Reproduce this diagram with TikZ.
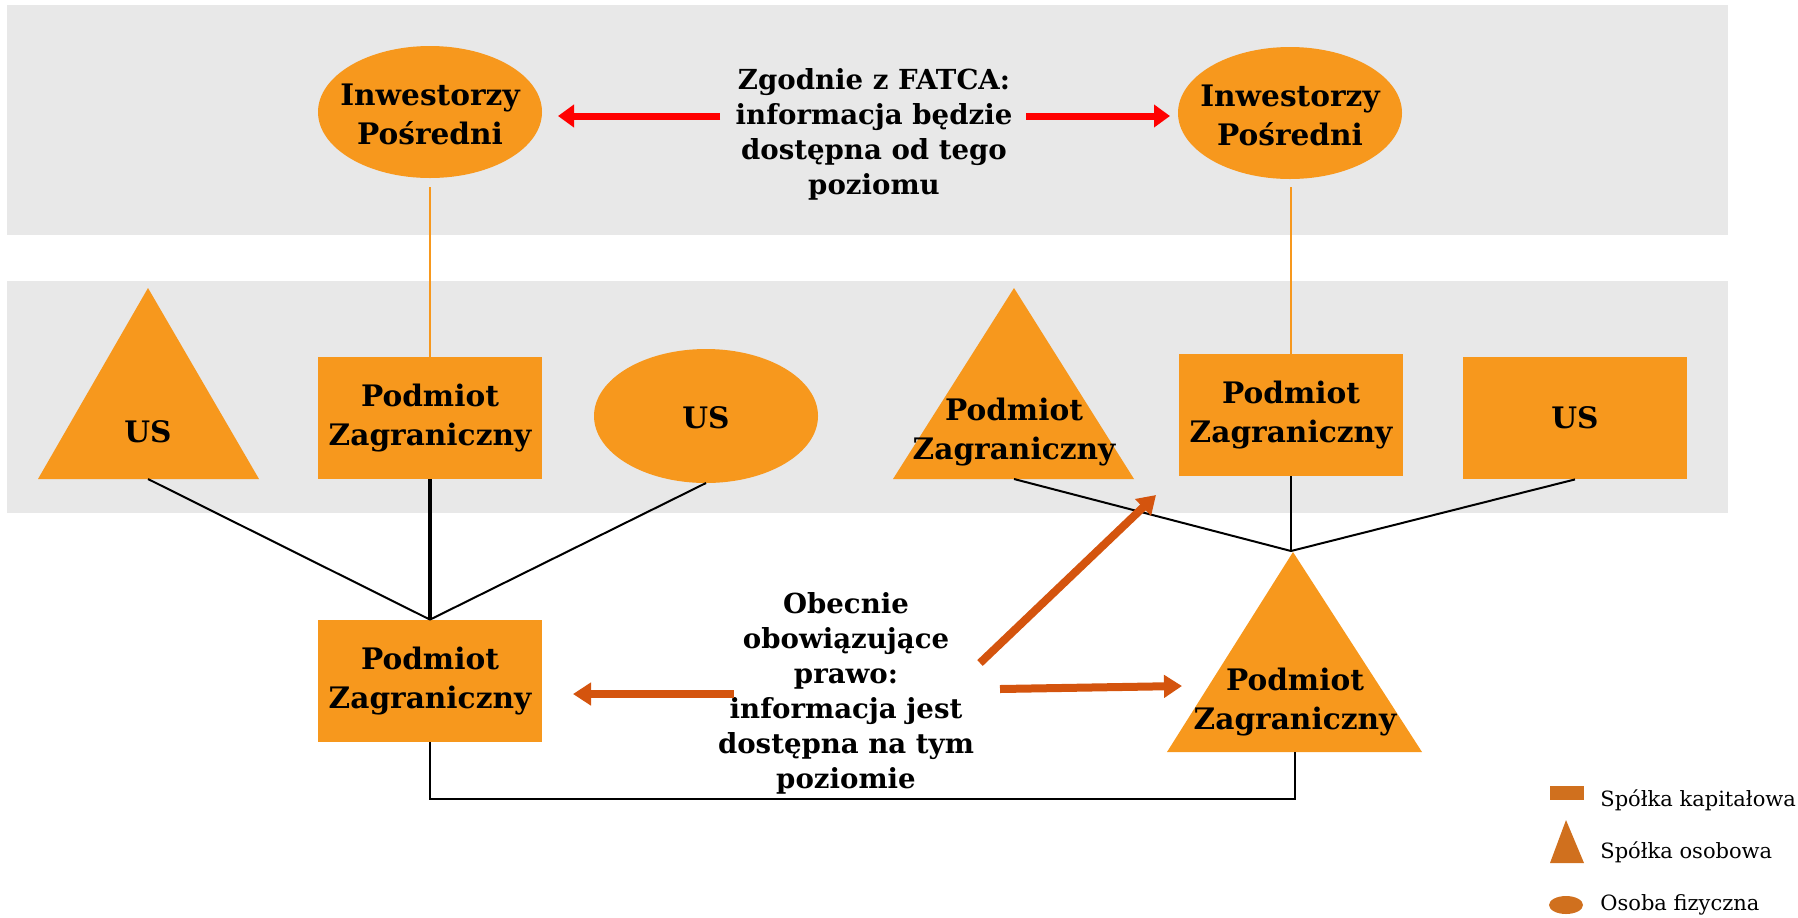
\documentclass[tikz,border=0pt]{standalone}
\usepackage{fontspec}
\setmainfont{DejaVu Serif}
\usetikzlibrary{shapes.geometric,arrows.meta}
\definecolor{pwcorange}{HTML}{F7981D}
\definecolor{bandgray}{HTML}{E8E8E8}
\definecolor{darkor}{HTML}{D4540E}
\definecolor{legor}{HTML}{D0701E}
\definecolor{redarr}{HTML}{FF0000}
\tikzset{
  band/.style={fill=bandgray,draw=none},
  shapefill/.style={fill=pwcorange,draw=none},
  lbl/.style={align=center,font=\bfseries\fontsize{14.8}{19.5}\selectfont,inner sep=0pt},
  note/.style={align=center,font=\bfseries\fontsize{13.8}{17.5}\selectfont,inner sep=0pt},
  boxnode/.style={shapefill,rectangle,minimum width=112pt,minimum height=61pt,inner sep=0pt},
  link/.style={black,line width=1pt},
  thinor/.style={pwcorange,line width=0.8pt},
  redarrow/.style={redarr,line width=3.5pt,-{Triangle[width=11pt,length=8pt]}},
  orarrow/.style={darkor,line width=4pt,-{Triangle[width=11pt,length=9pt]}},
  legtext/.style={anchor=west,font=\fontsize{10.5}{12}\selectfont,inner sep=0pt},
}
\begin{document}
\begin{tikzpicture}[x=0.5pt,y=-0.5pt]
\useasboundingbox (0,0) rectangle (1798,917);
% bands
\fill[band] (7,5) rectangle (1728,235);
\fill[band] (7,281) rectangle (1728,513);

% top ellipses
\fill[shapefill] (430,112) ellipse [x radius=112, y radius=66];
\node[lbl] (invL) at (430,114) {Inwestorzy\\Pośredni};
\fill[shapefill] (1290,113) ellipse [x radius=112, y radius=66];
\node[lbl] (invR) at (1290,115) {Inwestorzy\\Pośredni};
\node[note] (fatca) at (874,134) {Zgodnie z FATCA:\\informacja będzie\\dostępna od tego\\poziomu};

% second row
\fill[shapefill] (148,288) -- (259,479) -- (38,479) -- cycle;
\node[lbl] (usTri) at (148,432) {US};
\coordinate (usTriB) at (148,479);
\node[boxnode,lbl] (pzL) at (430,418) {Podmiot\\Zagraniczny};
\fill[shapefill] (706,416) ellipse [x radius=112, y radius=67];
\node[lbl] (usEll) at (706,418) {US};
\coordinate (usEllB) at (706,483);
\fill[shapefill] (1014,288) -- (1134,479) -- (893,479) -- cycle;
\node[lbl] (pzTri) at (1014,432) {Podmiot\\Zagraniczny};
\coordinate (pzTriB) at (1014,479);
\node[boxnode,lbl] (pzR) at (1291,415) {Podmiot\\Zagraniczny};
\node[boxnode,lbl] (usBox) at (1575,418) {US};

% bottom row
\node[boxnode,lbl] (pzB) at (430,681) {Podmiot\\Zagraniczny};
\fill[shapefill] (1293,552) -- (1422,752) -- (1167,752) -- cycle;
\node[lbl] (pzBT) at (1295,702) {Podmiot\\Zagraniczny};
\coordinate (pzBTtop) at (1291,551);
\coordinate (pzBTbot) at (1295,752);

% orange thin lines
\coordinate (invLb) at (430,187);
\coordinate (invRb) at (1291,187);
\coordinate (pzRt) at (1291,354);
\draw[thinor] (invLb) -- (pzL.north);
\draw[thinor] (invRb) -- (pzRt);

% black links left
\draw[link] (usTriB) -- (pzB.north);
\draw[link,line width=1.6pt] (pzL.south) -- (pzB.north);
\draw[link] (usEllB) -- (pzB.north);
% black links right
\draw[link] (pzTriB) -- (pzBTtop);
\draw[link] (pzR.south) -- (pzBTtop);
\draw[link] (usBox.south) -- (pzBTtop);
% bottom connector
\draw[link,line width=1.2pt] (pzB.south) -- (430,799) -- (1295,799) -- (pzBTbot);

% red arrows
\coordinate (fl) at (720,116);
\coordinate (flE) at (558,116);
\coordinate (fr) at (1026,116);
\coordinate (frE) at (1170,116);
\draw[redarrow] (fl) -- (flE);
\draw[redarrow] (fr) -- (frE);

% Obecnie text
\node[note] (obec) at (846,693) {Obecnie\\obowiązujące\\prawo:\\informacja jest\\dostępna na tym\\poziomie};
\coordinate (ol) at (734,694);
\coordinate (olE) at (573,694);
\coordinate (or) at (1000,689);
\coordinate (orE) at (1182,686);
\coordinate (od) at (980,663);
\coordinate (odE) at (1156,495);
\draw[orarrow] (ol) -- (olE);
\draw[orarrow] (or) -- (orE);
\draw[orarrow] (od) -- (odE);

% legend
\fill[legor] (1550,786) rectangle (1584,800);
\node[legtext] (lg1) at (1600,800) {Spółka kapitałowa};
\fill[legor] (1566,820) -- (1584,863) -- (1550,863) -- cycle;
\node[legtext] (lg2) at (1600,852) {Spółka osobowa};
\fill[legor] (1566,905) ellipse [x radius=17, y radius=9];
\node[legtext] (lg3) at (1600,905) {Osoba fizyczna};
\end{tikzpicture}
\end{document}
